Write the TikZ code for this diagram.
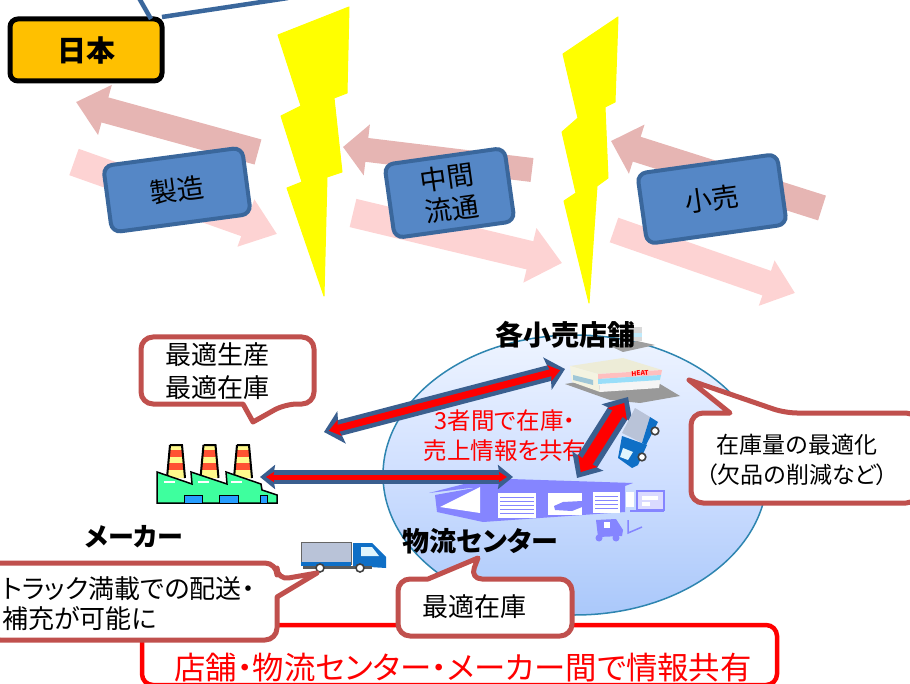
\documentclass[tikz,border=0pt]{standalone}
\usepackage{fontspec}
\setmainfont{Noto Sans CJK JP}[RawFeature=+palt]
\usepackage{tikz}
\usetikzlibrary{arrows.meta, positioning}
\definecolor{steelline}{HTML}{3A679C}
\definecolor{steelfill}{HTML}{5587C6}
\definecolor{backflow}{HTML}{E6B5B3}
\definecolor{forwardflow}{HTML}{FDD3D3}
\definecolor{brickline}{HTML}{C0504D}
\definecolor{arrowblue}{HTML}{3A5F8F}
\definecolor{depot}{HTML}{8585FF}
\definecolor{plantgreen}{HTML}{3EFF9E}
\definecolor{truckblue}{HTML}{0F6FC6}
\definecolor{cargo}{HTML}{B9C3D8}
\definecolor{amber}{HTML}{FFC000}
\definecolor{boltyellow}{HTML}{FFFF00}
\definecolor{basintop}{HTML}{EEF4FF}
\definecolor{basinmid}{HTML}{CFDFFF}
\definecolor{basinlow}{HTML}{AAC8FA}
\tikzset{
    fs/.style={font=\fontsize{#1}{30}\selectfont},
    bs/.style={font=\fontsize{#1}{30}\selectfont\bfseries},
    stagebox/.style={draw=steelline, fill=steelfill, line width=4pt, rounded corners=9pt, inner sep=0pt, align=center},
    balloon/.style={draw=brickline, fill=white, line width=5pt, line join=round},
    bolt/.style={fill=boltyellow, draw=boltyellow, line width=1pt, line join=round},
    wire/.style={draw=steelline, line width=4.5pt}
}
\begin{document}
\begin{tikzpicture}[x=1pt, y=-1pt, >=stealth]
    \useasboundingbox (0,0) rectangle (910,684);

    \coordinate (wireA) at (139,-2);
    \coordinate (wireB) at (288,-2);
    \coordinate (backA) at (258,152);   \coordinate (backAtip) at (76,102);
    \coordinate (fwdA)  at (74,162);    \coordinate (fwdAtip)  at (277,234);
    \coordinate (backB) at (532,170);   \coordinate (backBtip) at (343,147);
    \coordinate (fwdB)  at (353,213);   \coordinate (fwdBtip)  at (562,263);
    \coordinate (backC) at (822,208);   \coordinate (backCtip) at (611,141);
    \coordinate (fwdC)  at (614,230);   \coordinate (fwdCtip)  at (795,293);

    % flows between the stages
    \foreach \a/\b/\w/\h/\l/\c in {backA/backAtip/26/50/30/backflow, fwdA/fwdAtip/28/48/33/forwardflow,
        backB/backBtip/24/50/24/backflow, fwdB/fwdBtip/29/54/33/forwardflow,
        backC/backCtip/26/50/27/backflow, fwdC/fwdCtip/26/46/30/forwardflow}
    {
        \draw[\c, line width=\w pt, -{Triangle[length=\l pt, width=\h pt]}] (\a)--(\b);
    }

    \node[draw=black, fill=amber, line width=5pt, rounded corners=8pt, minimum width=152pt, minimum height=62pt, inner sep=0pt, outer sep=0pt, bs=29] (japan) at (86,50) {日本};
    \draw[wire] (wireA)--([xshift=-11pt]japan.north east);
    \draw[wire] (wireB)--([yshift=2pt]japan.north east);

    \node[stagebox, fs=27, rotate=7.6, minimum width=140pt, minimum height=67pt] (making) at (177,190) {製造};
    \node[stagebox, fs=27, rotate=8, minimum width=121pt, minimum height=74pt] (midstage) at (449.5,193) {中間\\[2pt]流通};
    \node[stagebox, fs=27, rotate=8, minimum width=141pt, minimum height=71pt] (retail) at (712,199) {小売};

    % the two breaks in the chain
    \fill[bolt] (349,7)--(278,35)--(301,106)--(281,116)--(302,182)--(287,188)--(324,296)--(327,177)--(342,172)--(334,98)--(347,93)--cycle;
    \fill[bolt] (618,17)--(563,54)--(578,118)--(562,132)--(576,193)--(564,201)--(589,303)--(597,186)--(608,178)--(605,107)--(615,102)--cycle;

    % frame for the summary line
    \draw[red, line width=4.5pt, rounded corners=11pt] (142,685) rectangle (777,625);

    \path[top color=basintop, bottom color=basinlow, middle color=basinmid, draw=steelline!80!cyan, line width=1.5pt] (575,475) ellipse (192 and 140);

    % store in the distance
    \fill[gray!75] (610,346)--(637,341)--(655,345)--(623,352)--cycle;
    \fill[white!85!black] (628,327) rectangle (642,341);
    \fill[cyan!25] (630,333) rectangle (642,337);
    % main store
    \fill[gray!80] (565,384)--(600,378)--(660,384)--(680,396)--(640,403)--(610,400)--cycle;
    \fill[yellow!10!white!92!black] (570,366)--(623,358)--(662,370)--(598,374)--cycle;
    \fill[yellow!8!white!95!black] (570,366)--(598,374)--(600,392)--(572,382)--cycle;
    \fill[cyan!45!gray!60] (573,375)--(593,380)--(593,385)--(573,380)--cycle;
    \fill[white!96!black] (598,374)--(662,370)--(659,388)--(600,392)--cycle;
    \fill[red!25!white] (598,374)--(662,370)--(661,375)--(598,379)--cycle;
    \fill[cyan!40] (598,379)--(661,375)--(660,380)--(598,384)--cycle;
    \node[text=red, font=\fontsize{6.5}{6.5}\selectfont\bfseries, rotate=4, inner sep=0pt] (storesign) at (640,373) {HEAT};

    % warehouse
    \fill[depot] (429,493)--(468,483)--(510,479)--(633,483)--(625,486)--(470,488)--cycle;
    \fill[depot] (435,495)--(480,487)--(625,484)--(625,512)--(483,522)--(437,512)--cycle;
    \fill[white] (440,507)--(480,487)--(480,513)--cycle;
    \fill[white] (498,493) rectangle (536,518);
    \fill[white] (548,493) rectangle (582,515);
    \fill[white] (593,492) rectangle (620,513);
    \foreach \y in {497,501,505,509,513}
    {
        \draw[depot, line width=1pt] (500,\y)--(534,\y);
    }
    \foreach \y in {496,500,504,508}
    {
        \draw[depot, line width=1pt] (595,\y)--(618,\y);
    }
    \fill[depot] (554,506)--(563,502)--(582,501)--(582,507)--(572,511)--(555,510)--cycle;
    \fill[white] (626,492) rectangle (634,507);
    \draw[depot, line width=1.5pt, fill=white!70!depot] (637,491) rectangle (664,510);
    \fill[white] (642,496) rectangle (658,500);
    \fill[white] (642,502) rectangle (650,506);
    \fill[depot] (630,510) rectangle (664,512);
    % forklift
    \fill[depot] (596,520)--(616,519)--(623,530)--(622,536)--(598,537)--cycle;
    \fill[white] (604,522) rectangle (610,528);
    \fill[depot] (599,538) circle (3.5);
    \fill[depot] (616,538) circle (3.5);
    \draw[depot, line width=1.5pt] (628,520)--(628,533)--(642,527);

    % factory
    \foreach \x in {0,33.5,67}
    {
        \begin{scope}[xshift=\x pt]
            \fill[yellow!45] (170,445)--(182,445)--(185,478)--(167,478)--cycle;
            \fill[red!70!orange!80] (169,450) rectangle (183,457);
            \fill[red!70!orange!80] (168,463) rectangle (184,470);
            \draw[line width=2pt] (170,445)--(182,445)--(185,478);
            \draw[line width=2pt] (170,445)--(167,478);
        \end{scope}
    }
    \draw[fill=plantgreen, line width=1.5pt] (157,503)--(157,472)--(192,484)--(191,472)--(227,484)--(226,472)--(261,484)--(262,490)--(277,495)--(277,503)--cycle;
    \foreach \x in {0,33.5,67}
    {
        \draw[white, line width=1.2pt] (164+\x,482)--(175+\x,482);
    }
    \foreach \a/\b in {184/202,219/238,260/267}
    {
        \draw[fill=blue!45!cyan!85, line width=1pt] (\a,495) rectangle (\b,503);
    }

    % delivery truck
    \draw[fill=cargo, draw=black!60, line width=1pt] (301,542) rectangle (351,564);
    \fill[truckblue] (301,562) rectangle (351,566);
    \fill[truckblue] (353,543)--(372,543)--(386,557)--(386,568)--(353,566)--cycle;
    \fill[cyan!12] (361,547)--(372,547)--(379,556)--(361,556)--cycle;
    \fill[black!65] (303,566) rectangle (372,569);
    \foreach \x in {320,360}
    {
        \draw[fill=white, line width=1.6pt, draw=black!75] (\x,568) circle (4);
    }

    \node[text=red, fs=23.5, align=center] (sharetext) at (505,436) {3者間で在庫・\\売上情報を共有};

    % links between the three sites
    \coordinate (storeleft) at (565,369);
    \coordinate (plantupper) at (324,432);
    \coordinate (plantright) at (260,477);
    \coordinate (depotleft) at (513,477);
    \coordinate (storelower) at (628,397);
    \coordinate (depotupper) at (577,478);
    \draw[arrowblue, line width=16pt, {Stealth[length=18pt, width=33pt, inset=3pt]}-{Stealth[length=18pt, width=33pt, inset=3pt]}] (plantupper)--(storeleft);
    \draw[red, line width=7pt, shorten <=5pt, shorten >=5pt, {Stealth[length=11pt, width=16pt, inset=2pt]}-{Stealth[length=11pt, width=16pt, inset=2pt]}] (plantupper)--(storeleft);
    \draw[arrowblue, line width=14pt, {Stealth[length=15pt, width=24pt, inset=2pt]}-{Stealth[length=15pt, width=24pt, inset=2pt]}] (plantright)--(depotleft);
    \draw[red, line width=5pt, shorten <=6pt, shorten >=6pt, {Stealth[length=8pt, width=10pt, inset=1pt]}-{Stealth[length=8pt, width=10pt, inset=1pt]}] (plantright)--(depotleft);
    \draw[arrowblue, line width=23pt, {Stealth[length=20pt, width=36pt, inset=2pt]}-{Stealth[length=20pt, width=36pt, inset=2pt]}] (depotupper)--(storelower);
    \draw[red, line width=12pt, shorten <=7pt, shorten >=7pt, {Stealth[length=13pt, width=22pt, inset=1pt]}-{Stealth[length=13pt, width=22pt, inset=1pt]}] (depotupper)--(storelower);

    % truck between warehouse and store
    \fill[cargo] (635,408)--(650,417)--(642,443)--(622,433)--cycle;
    \fill[truckblue] (650,417)--(658,422)--(646,445)--(642,443)--cycle;
    \fill[truckblue] (622,436)--(647,445)--(638,465)--(632,468)--(618,458)--cycle;
    \fill[cyan!12] (623,448)--(633,452)--(628,460)--(620,457)--cycle;
    \draw[fill=white, line width=1.6pt, draw=black!75] (655,431) circle (3.8);
    \draw[fill=white, line width=1.6pt, draw=black!75] (642,457) circle (3.8);

    \node[bs=28] (storelabel) at (565,335) {各小売店舗};
    \node[bs=26] (makerlabel) at (134,537) {メーカー};
    \node[bs=27] (depotlabel) at (480,541) {物流センター};

    % speech balloons
    \draw[balloon] [rounded corners=12] (243,404)--(141,404)--(141,337)--(314,337)--(314,404)--(285,404) [sharp corners] --(253,422)--cycle;
    \node[fs=26, align=left, inner sep=0pt] (plantgoal) at (217,371) {最適生産\\[3pt]最適在庫};

    \draw[balloon] [rounded corners=12] (730,413)--(691,413)--(691,503)--(918,503)--(918,413)--(785,413) [sharp corners] --(689,380)--cycle;
    \node[fs=23, align=center, inner sep=0pt] (storegoal) at (797,460) {在庫量の最適化\\（欠品の削減など）};

    \draw[balloon] [rounded corners=12] (428,579)--(398,579)--(398,636)--(572,636)--(572,579)--(470,579) [sharp corners] --(478,558)--cycle;
    \node[fs=26, inner sep=0pt] (depotgoal) at (474,607) {最適在庫};

    \draw[balloon] [rounded corners=12] (277,597)--(277,640)--(-12,640)--(-12,563)--(277,563)--(277,580) [sharp corners] --(317,573)--cycle;
    \node[fs=26, align=left, inner sep=0pt, anchor=west] (truckgoal) at (2,604) {トラック満載での配送・\\補充が可能に};

    \node[text=red, fs=31.4, inner sep=0pt] (summary) at (463,668) {店舗・物流センター・メーカー間で情報共有};
\end{tikzpicture}
\end{document}
